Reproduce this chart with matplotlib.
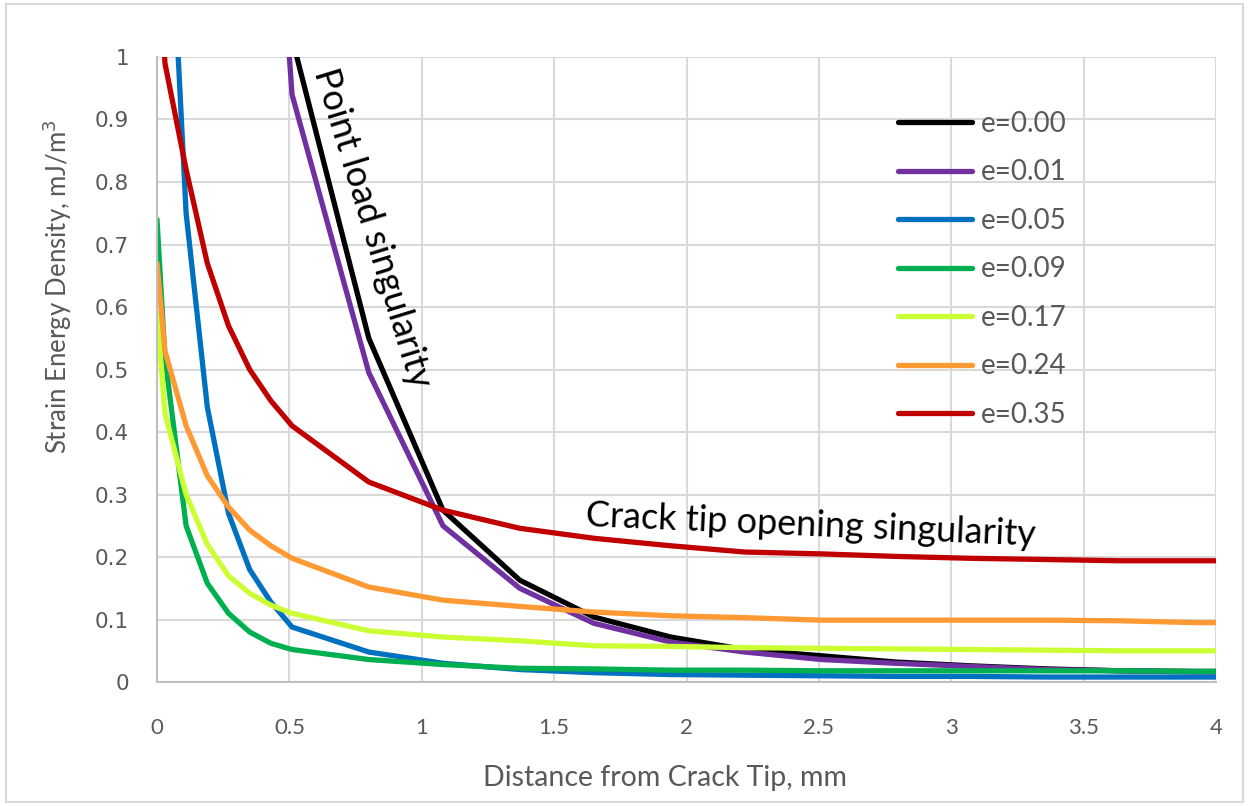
import numpy as np
import matplotlib.pyplot as plt
from matplotlib.patches import Rectangle

plt.rcParams['font.family'] = ['Lato', 'DejaVu Sans']

# distance from crack tip, mm
dist = [0, 0.03, 0.11, 0.19, 0.27, 0.35, 0.43, 0.51, 0.80, 1.08, 1.37, 1.65,
        1.94, 2.22, 2.51, 2.79, 3.07, 3.36, 3.64, 3.93, 4.0]

# strain energy density, mJ/m3, one list per eccentricity
e000 = [6.0, 5.5, 4.0, 3.0, 2.2, 1.7, 1.3, 1.03, 0.55, 0.275, 0.163, 0.104,
        0.072, 0.052, 0.042, 0.032, 0.026, 0.021, 0.018, 0.017, 0.017]
e001 = [5.6, 5.1, 3.7, 2.8, 2.1, 1.65, 1.42, 0.94, 0.495, 0.25, 0.15, 0.094,
        0.064, 0.048, 0.036, 0.03, 0.025, 0.02, 0.018, 0.016, 0.016]
e005 = [2.0, 1.42, 0.75, 0.44, 0.27, 0.18, 0.128, 0.088, 0.048, 0.03, 0.02,
        0.015, 0.012, 0.011, 0.01, 0.009, 0.009, 0.008, 0.008, 0.008, 0.008]
e009 = [0.74, 0.52, 0.25, 0.158, 0.11, 0.08, 0.062, 0.052, 0.036, 0.028,
        0.022, 0.021, 0.019, 0.019, 0.018, 0.018, 0.018, 0.018, 0.018, 0.017, 0.017]
e017 = [0.59, 0.43, 0.30, 0.22, 0.17, 0.142, 0.123, 0.11, 0.082, 0.072,
        0.066, 0.058, 0.057, 0.055, 0.054, 0.053, 0.052, 0.051, 0.05, 0.05, 0.05]
e024 = [0.67, 0.53, 0.41, 0.33, 0.28, 0.243, 0.218, 0.198, 0.152, 0.131,
        0.121, 0.112, 0.106, 0.103, 0.099, 0.099, 0.099, 0.099, 0.098, 0.095, 0.095]
e035 = [1.25, 0.99, 0.82, 0.67, 0.57, 0.50, 0.45, 0.41, 0.32, 0.275, 0.246,
        0.23, 0.218, 0.208, 0.205, 0.201, 0.198, 0.196, 0.194, 0.194, 0.194]

labels = ['e=0.00', 'e=0.01', 'e=0.05', 'e=0.09', 'e=0.17', 'e=0.24', 'e=0.35']
colors = ['#000000', '#7030a0', '#0070c0', '#00b050', '#ccff33', '#ff9933', '#c00000']
series = [e000, e001, e005, e009, e017, e024, e035]

xticks = [0, 0.5, 1, 1.5, 2, 2.5, 3, 3.5, 4]
xtick_labels = ['0', '0.5', '1', '1.5', '2', '2.5', '3', '3.5', '4']
yticks = [0, 0.1, 0.2, 0.3, 0.4, 0.5, 0.6, 0.7, 0.8, 0.9, 1]
ytick_labels = ['0', '0.1', '0.2', '0.3', '0.4', '0.5', '0.6', '0.7', '0.8', '0.9', '1']

fig = plt.figure(figsize=(12.49, 8.06), dpi=100)
ax = fig.add_axes([0.1257, 0.1538, 0.8479, 0.7755])

for vals, lab, col in zip(series, labels, colors):
    ax.plot(dist, vals, color=col, linewidth=3.8, label=lab,
            solid_capstyle='round', solid_joinstyle='miter')

ax.set_xlim(0, 4)
ax.set_ylim(0, 1)
ax.set_xticks(xticks, xtick_labels)
ax.set_yticks(yticks, ytick_labels)
ax.tick_params(length=0, colors='#595959')
ax.tick_params(axis='x', pad=26, labelsize=16)
ax.tick_params(axis='y', pad=20, labelsize=15.5)
for t in ax.get_yticklabels():
    t.set_family('DejaVu Sans')
ax.grid(True, color='#d9d9d9', linewidth=1.5)
ax.set_axisbelow(True)
for s in ['top', 'right']:
    ax.spines[s].set_visible(False)
for s in ['left', 'bottom']:
    ax.spines[s].set_color('#bfbfbf')
    ax.spines[s].set_linewidth(1.5)

ax.set_xlabel('Distance from Crack Tip, mm', fontsize=20.5, color='#595959', va='center')
ax.xaxis.set_label_coords(0.48, -0.154)
ax.set_ylabel('Strain Energy Density, mJ/m$^3$', fontsize=18.5, color='#595959', va='center')
ax.yaxis.set_label_coords(-0.094, 0.632)

ax.text(0.815, 0.726, 'Point load singularity', rotation=-73, fontsize=26,
        ha='center', va='center', rotation_mode='anchor')
ax.text(2.47, 0.251, 'Crack tip opening singularity', rotation=-2.5, fontsize=26,
        ha='center', va='center', rotation_mode='anchor')

ax.legend(loc='upper left', bbox_to_anchor=(0.70, 0.914), frameon=False,
          fontsize=20, labelcolor='#595959', handlelength=2.66,
          handletextpad=0.3, labelspacing=0.81, borderpad=0, borderaxespad=0)

fig.patches.append(Rectangle((0.005, 0.005), 0.99, 0.99, transform=fig.transFigure,
                             fill=False, edgecolor='#d9d9d9', linewidth=1.5))

fig.savefig('out.png', dpi=100)
